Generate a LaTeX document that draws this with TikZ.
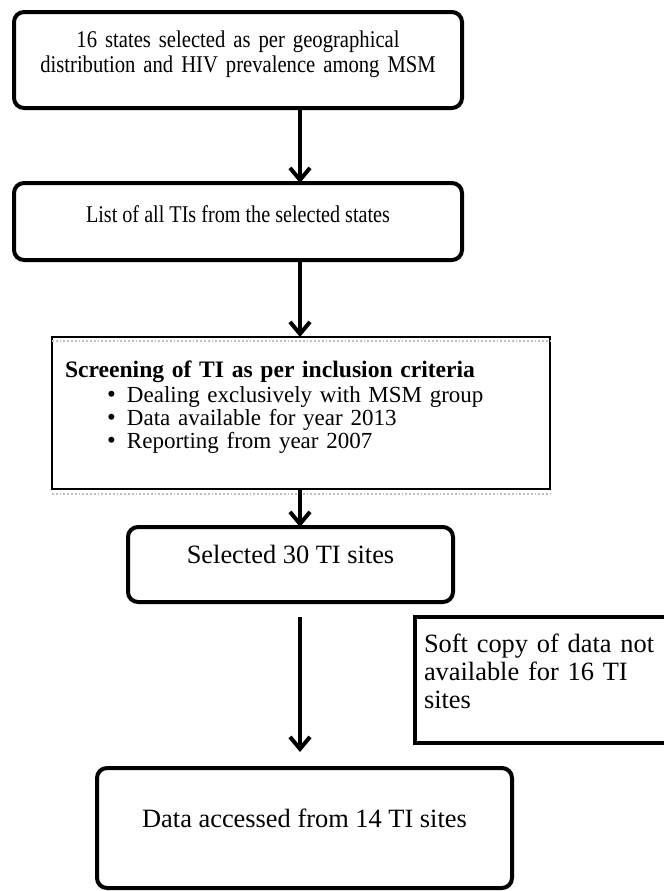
\documentclass[tikz,border=0pt]{standalone}
\usepackage{fontspec}
\setmainfont{Liberation Serif}
\usetikzlibrary{positioning,arrows.meta}
\newcommand{\critline}[1]{\hspace*{21pt}\makebox[10pt][l]{\fontsize{12.5}{11.5}\selectfont\textbullet}#1}

\begin{document}
\begin{tikzpicture}[>={Straight Barb[length=6pt,width=10pt]},
		roundbox/.style={shape=rectangle,draw,line width=2pt,rounded corners=5pt,
		align=center,outer sep=0pt},
		squarebox/.style={shape=rectangle,draw,align=left,outer sep=0pt},
		shadowline/.style={draw=gray!50,line width=0.9pt,densely dotted},
		flow/.style={->,line width=2pt}]
		\useasboundingbox (0,0) rectangle (332pt,-445.5pt);
		\clip (0,0) rectangle (332pt,-445.5pt);
		\coordinate (spine) at (150pt,0);

		% create the nodes
		\node (states) [roundbox,anchor=north,text width=216pt,inner xsep=4pt,
			inner ysep=0pt,text height=17.5pt,text depth=30.5pt,
			font=\fontsize{12}{12.5}\selectfont\addfontfeature{FakeStretch=0.86}]
			at (119pt,-6pt)
			{16 states selected as per geographical\\distribution and HIV
			prevalence among MSM};
		\node (list) [roundbox,below=37.5pt of states,minimum width=224pt,
			inner ysep=0pt,text height=19.5pt,text depth=19pt,
			font=\fontsize{12}{12.5}\selectfont\addfontfeature{FakeStretch=0.84}]
			{List of all TIs from the selected states};
		\node (screen) [squarebox,below=38.5pt of list,xshift=31.5pt,line width=1pt,
			text width=236pt,inner xsep=6.5pt,inner ysep=0pt,text height=20pt,
			text depth=56pt,font=\fontsize{11.5}{11.5}\selectfont]
			{{\fontsize{11.8}{11.5}\selectfont\textbf{Screening of TI as per inclusion
			criteria}}\\[1pt]
			\critline{Dealing exclusively with MSM group}\\
			\critline{Data available for year 2013}\\
			\critline{Reporting from year 2007}};
		\node (selected) [roundbox,below=19pt of screen,xshift=-5.25pt,
			minimum width=162.5pt,inner ysep=0pt,text height=18pt,text depth=19.5pt,
			font=\fontsize{13.2}{14}\selectfont]
			{Selected 30 TI sites};
		\node (softcopy) [squarebox,below=7.5pt of selected.south east,
			anchor=north west,xshift=-19pt,line width=2pt,text width=200pt,
			inner xsep=4.5pt,inner ysep=0pt,text height=17.5pt,text depth=45.5pt,
			font=\fontsize{13.2}{14}\selectfont]
			{Soft copy of data not\\available for 16 TI\\sites};
		\node (accessed) [roundbox,below=83pt of selected,xshift=7pt,
			minimum width=207.5pt,inner ysep=0pt,text height=29.5pt,text depth=30.5pt,
			font=\fontsize{13.2}{14}\selectfont]
			{Data accessed from 14 TI sites};

		% faint second border of the screening box
		\draw[shadowline] ([yshift=-2pt]screen.north west) -- 
		([yshift=-2pt]screen.north east);
		\draw[shadowline] ([yshift=-2.5pt]screen.south west) -- 
		([yshift=-2.5pt]screen.south east);

		% connect the nodes
		\draw[flow] (states.south -| spine) -- (list.north -| spine);
		\draw[flow] (list.south -| spine) -- (screen.north -| spine);
		\draw[flow] (screen.south -| spine) -- (selected.north -| spine);
		\draw[flow,shorten <=7.5pt,shorten >=8pt] (selected.south -| spine) -- 
		(accessed.north -| spine);

	\end{tikzpicture}
\end{document}
